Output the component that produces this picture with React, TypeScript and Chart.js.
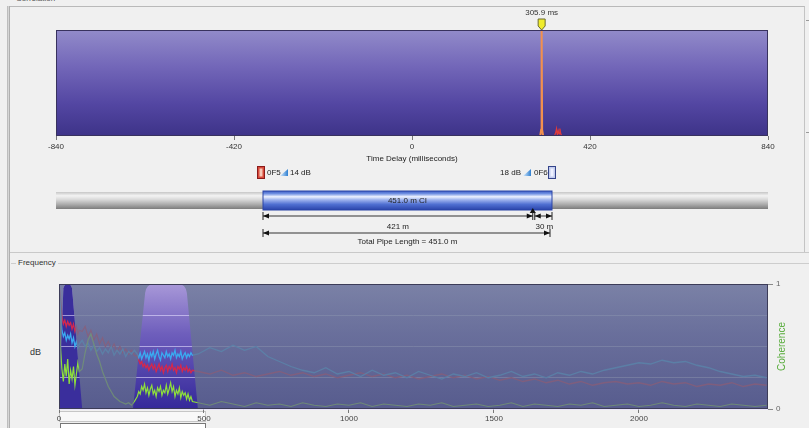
import React, { useEffect, useRef } from "react";
import { Chart, registerables } from "chart.js";

Chart.register(...registerables);

const FONT = "'Liberation Sans', Arial, sans-serif";
Chart.defaults.font.family = FONT;

// ---------- Correlation (time delay) ----------
const timeTicksMs = [-840, -420, 0, 420, 840];
const mainPeakDelayMs = [-840, 302.5, 304.8, 305.9, 307.0, 309.5, 840];
const mainPeakLevel = [0, 0, 0.06, 1, 0.06, 0, 0];
const sidePeakDelayMs = [336, 339, 341, 343, 345, 347, 349, 351, 354];
const sidePeakLevel = [0, 0.03, 0.07, 0.01, 0.05, 0.02, 0.07, 0.02, 0];
const peakDelayLabelMs = 305.9;

// ---------- Pipe ----------
const sensorNames = ["0F5", "0F6"];
const sensorGainDb = [14, 18];
const pipeLengthM = 451.0;
const pipeMaterial = "CI";
const leakDistancesM = [421, 30];

// ---------- Frequency ----------
const freqTicksHz = [0, 500, 1000, 1500, 2000];
const coherenceTicks = [0, 1];
const dbGridLevels = [0, 25, 50, 75, 100];
const bandBottomLowHz = [0, 255];
const bandBottomHighHz = [80, 479];
const bandTopLowHz = [15, 297];
const bandTopHighHz = [45, 441];

const freqHz = [
  0, 5, 10, 15, 20, 25, 30, 35, 40, 45, 50, 55, 60, 65, 70,
  80, 90, 100, 110, 120, 130, 140, 150, 160, 170, 180, 190, 200, 210, 220, 230, 240, 250, 260,
  270, 275, 280, 285, 290, 295, 300, 305, 310, 315, 320, 325, 330, 335, 340, 345, 350, 355, 360, 365,
  370, 375, 380, 385, 390, 395, 400, 405, 410, 415, 420, 425, 430, 435, 440, 445, 450, 455, 460,
  480, 520, 560, 600, 640, 680, 720, 760, 800, 840, 880, 920, 960, 1000, 1040, 1080, 1120, 1160,
  1200, 1240, 1280, 1320, 1360, 1400, 1440, 1480, 1520, 1560, 1600, 1640, 1680, 1720, 1760, 1800,
  1840, 1880, 1920, 1960, 2000, 2040, 2080, 2120, 2160, 2200, 2240, 2280, 2320, 2360, 2400, 2440,
];

const spectrumBlueDb = [
  100, 78, 63, 58, 61, 55, 59, 56, 60, 53, 57, 50, 54, 49, 52,
  55, 50, 53, 47, 51, 46, 49, 44, 48, 45, 50, 43, 47, 44, 48, 42, 46, 44, 47,
  44, 41, 45, 40, 43, 46, 41, 44, 39, 45, 42, 46, 40, 44, 47, 42, 39, 45, 43, 41,
  46, 42, 44, 40, 45, 43, 47, 41, 44, 42, 46, 40, 43, 45, 41, 44, 42, 45, 43,
  44, 49, 46, 51, 47, 50, 42, 38, 34, 31, 29, 33, 28, 30, 26, 31, 27, 29,
  25, 30, 27, 24, 28, 26, 29, 25, 27, 30, 26, 28, 25, 29, 27, 30,
  28, 31, 33, 35, 37, 36, 39, 37, 38, 35, 33, 30, 28, 26, 27, 25,
];

const spectrumRedDb = [
  100, 88, 74, 68, 71, 66, 70, 67, 69, 64, 68, 62, 66, 60, 63,
  62, 66, 58, 63, 55, 60, 52, 57, 50, 54, 48, 52, 46, 50, 45, 48, 44, 47, 43,
  42, 39, 36, 38, 34, 36, 33, 35, 31, 34, 36, 32, 35, 30, 33, 36, 31, 34, 29, 33,
  35, 30, 34, 32, 36, 31, 33, 29, 34, 32, 35, 30, 33, 31, 34, 30, 32, 29, 31,
  30, 28, 31, 27, 29, 26, 28, 30, 27, 29, 26, 28, 25, 27, 29, 26, 28, 25,
  27, 24, 26, 28, 25, 27, 24, 26, 23, 25, 22, 24, 21, 23, 20, 22,
  19, 21, 22, 20, 21, 19, 22, 20, 21, 18, 20, 19, 21, 18, 20, 19,
];

const coherence = [
  0.85, 0.5, 0.32, 0.22, 0.36, 0.26, 0.4, 0.2, 0.31, 0.24, 0.34, 0.19, 0.28, 0.37, 0.3,
  0.32, 0.45, 0.55, 0.6, 0.52, 0.44, 0.38, 0.3, 0.24, 0.18, 0.14, 0.1, 0.08, 0.06, 0.05, 0.04, 0.05, 0.03, 0.06,
  0.1, 0.14, 0.12, 0.18, 0.15, 0.2, 0.13, 0.17, 0.11, 0.16, 0.19, 0.12, 0.15, 0.1, 0.17, 0.14, 0.18, 0.11, 0.15, 0.13,
  0.19, 0.12, 0.16, 0.21, 0.14, 0.18, 0.1, 0.15, 0.12, 0.17, 0.09, 0.14, 0.11, 0.13, 0.08, 0.12, 0.07, 0.1, 0.06,
  0.05, 0.03, 0.06, 0.04, 0.02, 0.05, 0.03, 0.04, 0.02, 0.05, 0.03, 0.02, 0.04, 0.03, 0.05, 0.02, 0.04, 0.03,
  0.02, 0.04, 0.03, 0.05, 0.02, 0.03, 0.04, 0.02, 0.03, 0.05, 0.02, 0.04, 0.03, 0.02, 0.04, 0.03,
  0.05, 0.02, 0.03, 0.04, 0.02, 0.03, 0.05, 0.03, 0.02, 0.04, 0.03, 0.02, 0.04, 0.03, 0.02, 0.03,
];

const xy = (xs: number[], ys: number[]) => xs.map((x, i) => ({ x, y: ys[i] }));
const setTicks = (vals: number[]) => (s: any) => {
  s.ticks = vals.map((v) => ({ value: v }));
};

// ---------- plugins ----------
const correlationPlugin = {
  id: "correlationDecor",
  beforeDraw(chart: any) {
    const { ctx, chartArea: a } = chart;
    const g = ctx.createLinearGradient(0, a.top, 0, a.bottom);
    g.addColorStop(0, "#928bca");
    g.addColorStop(0.35, "#7266b8");
    g.addColorStop(0.7, "#5346a2");
    g.addColorStop(1, "#3d3388");
    ctx.save();
    ctx.fillStyle = g;
    ctx.fillRect(a.left, a.top, a.right - a.left, a.bottom - a.top);
    ctx.restore();
  },
  afterDraw(chart: any) {
    const { ctx, chartArea: a, scales } = chart;
    ctx.save();
    ctx.strokeStyle = "#38325e";
    ctx.lineWidth = 1;
    ctx.strokeRect(a.left + 0.5, a.top + 0.5, a.right - a.left - 1, a.bottom - a.top - 1);
    const px = scales.x.getPixelForValue(peakDelayLabelMs);
    ctx.beginPath();
    ctx.moveTo(px - 3.5, a.top - 11);
    ctx.lineTo(px + 3.5, a.top - 11);
    ctx.lineTo(px + 3.5, a.top - 4);
    ctx.lineTo(px, a.top);
    ctx.lineTo(px - 3.5, a.top - 4);
    ctx.closePath();
    ctx.fillStyle = "#f0ec2c";
    ctx.fill();
    ctx.strokeStyle = "#6a6a30";
    ctx.stroke();
    ctx.fillStyle = "#333";
    ctx.font = `8px ${FONT}`;
    ctx.textAlign = "center";
    ctx.textBaseline = "middle";
    ctx.fillText(`${peakDelayLabelMs} ms`, px, a.top - 17);
    ctx.restore();
  },
};

function bandPath(ctx: any, x: any, a: any, i: number) {
  const xl = x.getPixelForValue(bandBottomLowHz[i]);
  const xr = x.getPixelForValue(bandBottomHighHz[i]);
  const tl = x.getPixelForValue(bandTopLowHz[i]);
  const tr = x.getPixelForValue(bandTopHighHz[i]);
  const r = Math.min(9, (tr - tl) / 2);
  ctx.moveTo(xl, a.bottom);
  ctx.lineTo(tl, a.top + r);
  ctx.quadraticCurveTo(tl + 1, a.top, tl + r, a.top);
  ctx.lineTo(tr - r, a.top);
  ctx.quadraticCurveTo(tr - 1, a.top, tr, a.top + r);
  ctx.lineTo(xr, a.bottom);
  ctx.closePath();
}

const frequencyPlugin = {
  id: "frequencyDecor",
  beforeDraw(chart: any) {
    const { ctx, chartArea: a, scales } = chart;
    ctx.save();
    const g = ctx.createLinearGradient(0, a.top, 0, a.bottom);
    g.addColorStop(0, "#a898d8");
    g.addColorStop(0.4, "#6e5ebc");
    g.addColorStop(1, "#34289a");
    ctx.fillStyle = g;
    ctx.fillRect(a.left, a.top, a.right - a.left, a.bottom - a.top);
    ctx.beginPath();
    bandPath(ctx, scales.x, a, 0);
    ctx.fillStyle = "#3a2e9c";
    ctx.fill();
    ctx.restore();
  },
  afterDatasetsDraw(chart: any) {
    const { ctx, chartArea: a, scales } = chart;
    ctx.save();
    ctx.beginPath();
    ctx.rect(a.left, a.top, a.right - a.left, a.bottom - a.top);
    bandPath(ctx, scales.x, a, 0);
    bandPath(ctx, scales.x, a, 1);
    const g = ctx.createLinearGradient(0, a.top, 0, a.bottom);
    g.addColorStop(0, "rgba(108,122,150,0.76)");
    g.addColorStop(1, "rgba(98,108,138,0.76)");
    ctx.fillStyle = g;
    ctx.fill("evenodd");
    ctx.restore();
  },
  afterDraw(chart: any) {
    const { ctx, chartArea: a } = chart;
    ctx.save();
    ctx.strokeStyle = "#3c3c58";
    ctx.lineWidth = 1;
    ctx.strokeRect(a.left + 0.5, a.top + 0.5, a.right - a.left - 1, a.bottom - a.top - 1);
    ctx.translate(a.right + 14, (a.top + a.bottom) / 2);
    ctx.rotate(-Math.PI / 2);
    ctx.fillStyle = "#58ac3c";
    ctx.font = `10px ${FONT}`;
    ctx.textAlign = "center";
    ctx.textBaseline = "middle";
    ctx.fillText("Coherence", 0, 0);
    ctx.restore();
  },
};

const tickFont = { family: FONT, size: 8 };

function correlationConfig(): any {
  return {
    type: "line",
    data: {
      datasets: [
        {
          label: "Correlation",
          data: xy(mainPeakDelayMs, mainPeakLevel),
          borderColor: "#f2904e",
          borderWidth: 2,
          pointRadius: 0,
          tension: 0,
        },
        {
          label: "Secondary",
          data: xy(sidePeakDelayMs, sidePeakLevel),
          borderColor: "#e03a3a",
          borderWidth: 1.2,
          pointRadius: 0,
          tension: 0,
        },
      ],
    },
    options: {
      responsive: false,
      animation: false,
      events: [],
      layout: { padding: { left: 56, right: 41, top: 30, bottom: 0 } },
      plugins: { legend: { display: false }, tooltip: { enabled: false } },
      scales: {
        x: {
          type: "linear",
          min: -840,
          max: 840,
          afterBuildTicks: setTicks(timeTicksMs),
          afterFit: (s: any) => {
            s.height = 29;
          },
          grid: { drawOnChartArea: false, tickLength: 4, color: "#777" },
          border: { display: false },
          ticks: { font: tickFont, color: "#333", padding: 2, maxRotation: 0, autoSkip: false, callback: (v: any) => String(v) },
          title: {
            display: true,
            text: "Time Delay (milliseconds)",
            font: { family: FONT, size: 8 },
            color: "#222",
            padding: { top: 0, bottom: 1 },
          },
        },
        y: { display: false, min: 0, max: 1 },
      },
    },
    plugins: [correlationPlugin],
  };
}

function frequencyConfig(): any {
  return {
    type: "line",
    data: {
      datasets: [
        {
          label: "Coherence",
          data: xy(freqHz, coherence),
          yAxisID: "y1",
          borderColor: "#8ee03a",
          borderWidth: 1.2,
          pointRadius: 0,
          tension: 0,
        },
        {
          label: sensorNames[1],
          data: xy(freqHz, spectrumBlueDb),
          yAxisID: "y",
          borderColor: "#3aaaf0",
          borderWidth: 1.3,
          pointRadius: 0,
          tension: 0,
        },
        {
          label: sensorNames[0],
          data: xy(freqHz, spectrumRedDb),
          yAxisID: "y",
          borderColor: "#d4284c",
          borderWidth: 1.3,
          pointRadius: 0,
          tension: 0,
        },
      ],
    },
    options: {
      responsive: false,
      animation: false,
      events: [],
      layout: { padding: { left: 59, right: 0, top: 14, bottom: 0 } },
      plugins: { legend: { display: false }, tooltip: { enabled: false } },
      scales: {
        x: {
          type: "linear",
          min: 0,
          max: 2445,
          afterBuildTicks: setTicks(freqTicksHz),
          afterFit: (s: any) => {
            s.height = 19;
          },
          grid: { drawOnChartArea: false, tickLength: 4, color: "#777" },
          border: { display: false },
          ticks: { font: tickFont, color: "#444", padding: 1, maxRotation: 0, autoSkip: false, callback: (v: any) => String(v) },
        },
        y: {
          position: "left",
          min: 0,
          max: 100,
          afterBuildTicks: setTicks(dbGridLevels),
          afterFit: (s: any) => {
            s.width = 0;
          },
          ticks: { display: false },
          border: { display: false },
          grid: { color: "rgba(228,222,255,0.6)", drawTicks: false, lineWidth: 1 },
        },
        y1: {
          position: "right",
          min: 0,
          max: 1,
          afterBuildTicks: setTicks(coherenceTicks),
          afterFit: (s: any) => {
            s.width = 41;
          },
          grid: { drawOnChartArea: false, tickLength: 5, color: "#888" },
          border: { display: false },
          ticks: { font: tickFont, color: "#666", padding: 3 },
        },
      },
    },
    plugins: [frequencyPlugin],
  };
}

// ---------- pipe diagram (SVG) ----------
function PipeDiagram() {
  const pipeX0 = 263;
  const pipeX1 = 552;
  const leakX = pipeX0 + (leakDistancesM[0] / pipeLengthM) * (pipeX1 - pipeX0);
  const mid = (pipeX0 + pipeX1) / 2;
  const txt = { fontFamily: FONT, fontSize: 8, fill: "#222" } as any;
  const arrow = (x: number, y: number, dir: number) =>
    `${x},${y} ${x + dir * 6},${y - 2.5} ${x + dir * 6},${y + 2.5}`;
  const dim = (x0: number, x1: number, y: number) => (
    <g>
      <line x1={x0} y1={y} x2={x1} y2={y} stroke="#333" strokeWidth={1} />
      <line x1={x0} y1={y - 4} x2={x0} y2={y + 4} stroke="#222" strokeWidth={1} />
      <line x1={x1} y1={y - 4} x2={x1} y2={y + 4} stroke="#222" strokeWidth={1} />
      <polygon points={arrow(x0, y, 1)} fill="#111" />
      <polygon points={arrow(x1, y, -1)} fill="#111" />
    </g>
  );
  return (
    <svg
      width={809}
      height={428}
      style={{ position: "absolute", left: 0, top: 0, pointerEvents: "none" }}
    >
      <defs>
        <linearGradient id="grayPipe" x1="0" y1="0" x2="0" y2="1">
          <stop offset="0" stopColor="#c6c6c6" />
          <stop offset="0.22" stopColor="#f3f3f3" />
          <stop offset="0.45" stopColor="#d8d8d8" />
          <stop offset="0.75" stopColor="#a8a8a8" />
          <stop offset="1" stopColor="#7c7c7c" />
        </linearGradient>
        <linearGradient id="bluePipe" x1="0" y1="0" x2="0" y2="1">
          <stop offset="0" stopColor="#3c5cc6" />
          <stop offset="0.14" stopColor="#7090e2" />
          <stop offset="0.3" stopColor="#eef2ff" />
          <stop offset="0.46" stopColor="#a0b4ee" />
          <stop offset="0.7" stopColor="#5070d2" />
          <stop offset="1" stopColor="#2a44aa" />
        </linearGradient>
        <linearGradient id="ramp" x1="0" y1="0" x2="1" y2="0">
          <stop offset="0" stopColor="#d8ecff" />
          <stop offset="1" stopColor="#2f7fd0" />
        </linearGradient>
      </defs>
      <rect x={56} y={192} width={712} height={17} fill="url(#grayPipe)" />
      <rect x={pipeX0} y={191} width={pipeX1 - pipeX0} height={19} fill="url(#bluePipe)" stroke="#2a44a6" strokeWidth={1} />
      <text x={mid} y={203} textAnchor="middle" style={txt}>
        {`${pipeLengthM.toFixed(1)} m ${pipeMaterial}`}
      </text>

      {/* sensors */}
      <rect x={pipeX0 - 5.5} y={166.5} width={7} height={12} fill="#d84a3a" stroke="#8a1a1a" />
      <rect x={pipeX0 - 3.5} y={168.5} width={3} height={8} fill="#f6c8b8" />
      <text x={pipeX0 + 4} y={175} style={txt}>{sensorNames[0]}</text>
      <polygon points={`${pipeX0 + 17},176 ${pipeX0 + 25},169 ${pipeX0 + 25},176`} fill="url(#ramp)" />
      <text x={pipeX0 + 27} y={175} style={txt}>{`${sensorGainDb[0]} dB`}</text>

      <text x={pipeX1 - 31} y={175} textAnchor="end" style={txt}>{`${sensorGainDb[1]} dB`}</text>
      <polygon points={`${pipeX1 - 29},176 ${pipeX1 - 21},169 ${pipeX1 - 21},176`} fill="url(#ramp)" />
      <text x={pipeX1 - 18} y={175} style={txt}>{sensorNames[1]}</text>
      <rect x={pipeX1 - 3.5} y={166.5} width={7} height={12} fill="#c4cdee" stroke="#34448a" />
      <rect x={pipeX1 - 1.5} y={168.5} width={3} height={8} fill="#eef1ff" />

      {/* leak marker */}
      <polygon points={`${leakX},208 ${leakX - 3},213 ${leakX + 3},213`} fill="#111" />

      {dim(pipeX0, leakX, 216)}
      {dim(leakX + 2, pipeX1, 216)}
      <text x={(pipeX0 + leakX) / 2} y={229} textAnchor="middle" style={txt}>
        {`${leakDistancesM[0]} m`}
      </text>
      <text x={(leakX + pipeX1) / 2 + 2} y={229} textAnchor="middle" style={txt}>
        {`${leakDistancesM[1]} m`}
      </text>
      {dim(pipeX0, pipeX1 - 2, 233)}
      <text x={mid} y={244} textAnchor="middle" style={txt}>
        {`Total Pipe Length = ${pipeLengthM.toFixed(1)} m`}
      </text>
    </svg>
  );
}

export default function App() {
  const topRef = useRef<HTMLCanvasElement>(null);
  const freqRef = useRef<HTMLCanvasElement>(null);

  useEffect(() => {
    const c1 = new Chart(topRef.current as HTMLCanvasElement, correlationConfig());
    const c2 = new Chart(freqRef.current as HTMLCanvasElement, frequencyConfig());
    return () => {
      c1.destroy();
      c2.destroy();
    };
  }, []);

  const abs = (s: any) => ({ position: "absolute", ...s } as React.CSSProperties);
  const small = { fontFamily: FONT, fontSize: 8, color: "#333", lineHeight: "10px", whiteSpace: "nowrap" };

  return (
    <div style={abs({ left: 0, top: 0, width: 809, height: 428, overflow: "hidden", background: "#f0f0f0" })}>
      {/* panel frames */}
      <div style={abs({ left: 8, top: 6, width: 797, height: 247, borderTop: "1px solid #b9b9b9", borderRight: "1px solid #c4c4c4", boxSizing: "border-box" })} />
      <div style={abs({ left: 7, top: 6, width: 3, height: 422, background: "linear-gradient(to right,#b0b0b0,#d6d6d6,#9c9c9c)" })} />
      <div style={abs({ left: 14, top: -6, padding: "0 2px", background: "#f0f0f0", ...small, color: "#555" })}>Correlation</div>
      <div style={abs({ left: 806, top: 20, width: 3, height: 0, borderTop: "1px solid #9a9a9a" })} />
      <div style={abs({ left: 806, top: 132, width: 3, height: 0, borderTop: "1px solid #9a9a9a" })} />
      <div style={abs({ left: 10, top: 252, width: 799, height: 0, borderTop: "1px solid #c9c9c9" })} />
      <div style={abs({ left: 11, top: 263, width: 798, height: 0, borderTop: "1px solid #cdcdcd" })} />
      <div style={abs({ left: 16, top: 258, padding: "0 2px", background: "#f0f0f0", ...small })}>Frequency</div>

      {/* bottom strips */}
      <div style={abs({ left: 59, top: 411, width: 147, height: 11, background: "#f8f8f8", border: "1px solid #c6c6c6", boxSizing: "border-box" })} />
      <div style={abs({ left: 60, top: 423, width: 146, height: 12, background: "#fff", border: "1px solid #777", boxSizing: "border-box" })} />

      <div style={abs({ left: 30, top: 347, ...small, fontSize: 9 })}>dB</div>

      <canvas ref={topRef} width={809} height={165} style={abs({ left: 0, top: 0, width: 809, height: 165 })} />
      <PipeDiagram />
      <canvas ref={freqRef} width={809} height={158} style={abs({ left: 0, top: 270, width: 809, height: 158 })} />
    </div>
  );
}
